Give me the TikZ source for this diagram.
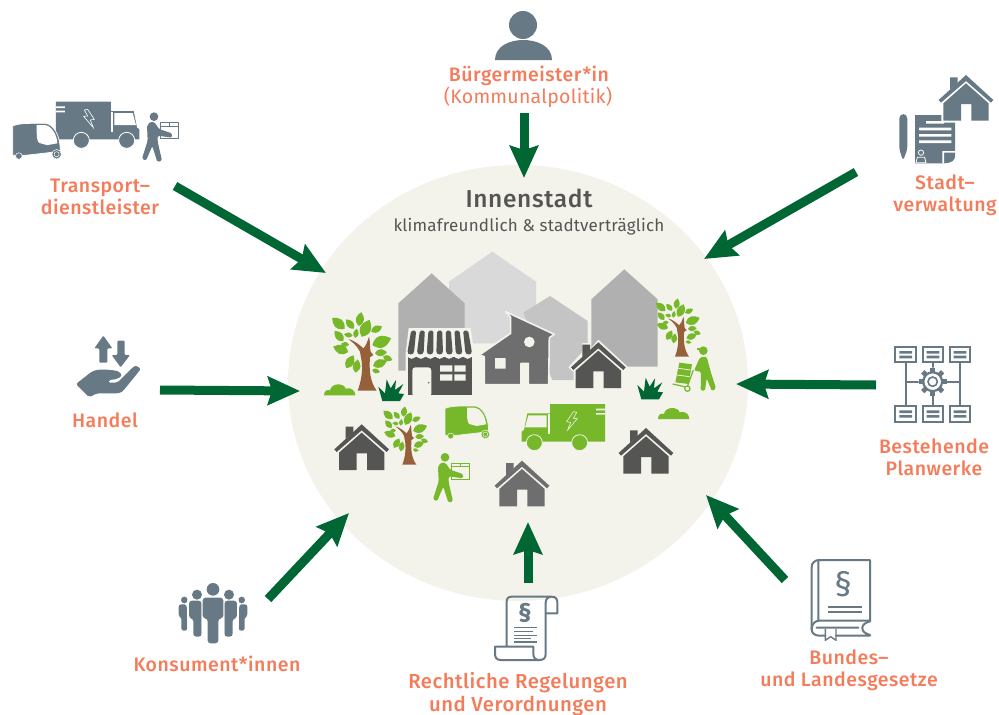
\documentclass[tikz,border=0pt]{standalone}
\usepackage{fontspec}
\setmainfont{Fira Sans}
\newfontfamily\labf{Fira Sans Medium}[LetterSpace=2.6]
\newfontfamily\thinf{Fira Sans}[LetterSpace=1.3]
\usetikzlibrary{arrows.meta}
\definecolor{bgc}{HTML}{F3F2EB}
\definecolor{arrowc}{HTML}{006633}
\definecolor{labelc}{HTML}{F47C5A}
\definecolor{slate}{HTML}{667985}
\definecolor{lgreen}{HTML}{76B82A}
\definecolor{brownc}{HTML}{96603A}
\definecolor{dk}{HTML}{555554}
\definecolor{md}{HTML}{6E6E6E}
\tikzset{
  flow/.style={draw=arrowc,line width=9pt,-{Stealth[length=32pt,width=28pt,inset=4pt]}},
  lab/.style={text=labelc,font=\labf\fontsize{19.5}{22.3}\selectfont,align=center,inner sep=0pt},
  labbig/.style={text=labelc,font=\labf\fontsize{20.3}{22.3}\selectfont,align=center,inner sep=0pt},
  labthin/.style={text=labelc,font=\thinf\fontsize{19.5}{22}\selectfont,align=center,inner sep=0pt},
  zoomed/.style={scale=1/3},
  iconline/.style={draw=slate,line width=2pt,line join=round,line cap=round}
}
% house, apex at origin, zoom units
\newcommand\hausicon[4]{\begin{scope}[shift={(#1,#2)}]
  \fill[#4] (-49,2) -- (-24,2) -- (-24,20) -- (0,-8) -- (90,75) -- (76,90) -- (74,143) -- (-74,143) -- (-74,90) -- (-90,75) -- (-49,30) -- cycle;
  \fill[#3] (0,0) -- (82,75) -- (75,83) -- (0,18) -- (-75,83) -- (-82,75) -- cycle;
  \fill[#3] (0,25) -- (68,85) -- (68,137) -- (16,137) -- (16,87) -- (-15,87) -- (-15,137) -- (-68,137) -- (-68,85) -- cycle;
  \fill[#3] (-48,7) -- (-25,7) -- (-25,24) -- (-48,44) -- cycle;
\end{scope}}
\newcommand\leafat[4]{\fill[shift={(#1,#2)},rotate=#3,lgreen] (-#4,0) .. controls (-#4*0.3,#4*0.95) and (#4*0.4,#4*0.6) .. (#4,0) .. controls (#4*0.4,-#4*0.6) and (-#4*0.3,-#4*0.95) .. (-#4,0) -- cycle;}
% tree, origin at trunk base centre
\newcommand\baum[3]{\begin{scope}[shift={(#1,#2)},scale=#3,shift={(-140,-452)}]
  \leafat{120}{237}{80}{21}\leafat{137}{265}{65}{28}\leafat{90}{252}{130}{18}\leafat{55}{250}{138}{25}
  \leafat{170}{267}{25}{18}\leafat{108}{280}{80}{14}\leafat{57}{288}{130}{20}\leafat{85}{285}{170}{13}
  \leafat{185}{305}{20}{30}\leafat{62}{328}{160}{24}\leafat{75}{313}{175}{12}\leafat{90}{365}{60}{22}
  \leafat{110}{378}{80}{20}\leafat{183}{338}{5}{18}\leafat{203}{355}{-20}{15}\leafat{180}{370}{20}{22}\leafat{168}{393}{-15}{12}
  \fill[brownc] (113,452) .. controls (125,420) and (128,390) .. (125,365) -- (120,335) .. controls (110,315) and (95,305) .. (85,297) .. controls (100,300) and (120,315) .. (130,325) .. controls (138,318) and (142,305) .. (147,290) .. controls (152,310) and (148,320) .. (152,335) -- (160,345) -- (150,352) .. controls (147,390) and (150,425) .. (170,452) -- cycle;
\end{scope}}
\newcommand\wolke[2]{\fill[lgreen,shift={(#1,#2)}] (0,0) .. controls (0,-14) and (10,-18) .. (18,-15) .. controls (22,-38) and (60,-38) .. (65,-20) .. controls (80,-25) and (94,-15) .. (94,0) -- cycle;}
\newcommand\gras[2]{\fill[arrowc,shift={(#1,#2)}] (187,483) -- (175,440) -- (195,460) -- (200,418) -- (212,445) -- (228,420) -- (225,450) -- (250,432) -- (235,460) -- (252,462) -- (240,483) -- cycle;}
% person with parcel, origin at head
\newcommand\paketmann[4]{\begin{scope}[shift={(#1,#2)}]
  \draw[#3,line width=1pt,fill=#4] (20,17) rectangle (73,65);
  \draw[#3,line width=.7pt] (20,28) -- (73,28) (47,17) -- (47,28);
  \fill[#3] (0,0) circle (13);
  \fill[#3,rounded corners=1.5pt] (-21,27) -- (-10,15) -- (2,17) -- (15,37) -- (54,50) -- (54,63) -- (11,57) -- (11,75) -- (24,132) -- (10,136) -- (-5,88) -- (-24,132) -- (-36,126) -- (-19,72) -- cycle;
\end{scope}}
% truck in central zoom units
\newcommand\laster[2]{
  \fill[#1] (690,492) -- (855,492) -- (855,605) -- (605,605) -- (605,575) -- (612,570) -- (622,520) -- (690,520) -- cycle;
  \fill[#2] (625,526) -- (680,526) -- (680,562) -- (615,562) -- cycle;
  \fill[#2] (684,522) rectangle (690,582);
  \fill[#2] (828,506) rectangle (855,511) (828,519) rectangle (855,524);
  \draw[#2,line width=.6pt,line join=miter] (760,515) -- (740,545) -- (752,547) -- (743,570) -- (772,536) -- (760,535) -- (770,517) -- cycle;
  \fill[#1,draw=#2,line width=.8pt] (643,608) circle (24) (779,608) circle (24);
}
% tuk-tuk in central zoom units
\newcommand\tuktuk[2]{
  \fill[#1,draw=#2,line width=.7pt] (375,505) .. controls (390,499) and (410,498) .. (440,498) -- (465,498) .. controls (485,500) and (505,525) .. (506,572) -- (480,578) -- (410,586) -- (375,586) -- cycle;
  \fill[#2] (441,503) -- (465,503) .. controls (482,505) and (497,530) .. (498,553) -- (470,558) -- (448,552) .. controls (441,548) and (441,530) .. (441,503) -- cycle;
  \fill[#1,draw=#2,line width=.5pt] (392,588) circle (9) (496,583) circle (13);
  \draw[#2,line width=.5pt] (496,583) circle (7);
}
\begin{document}
\begin{tikzpicture}[x=1pt,y=-1pt]
\useasboundingbox (0,0) rectangle (999,715);
\fill[white] (0,0) rectangle (999,715);
% disc
\fill[bgc] (518,383) ellipse [x radius=230,y radius=218];

% centre scene, zoom coordinates
\begin{scope}[shift={(320,240)},zoomed]
  \fill[black!15] (387,125) -- (517,35) -- (648,125) -- (648,310) -- (387,310) -- cycle;
  \fill[black!31] (235,190) -- (335,100) -- (434,190) -- (434,392) -- (235,392) -- cycle;
  \fill[black!23] (610,218) -- (690,168) -- (803,243) -- (803,420) -- (697,420) -- cycle;
  \fill[black!31] (814,178) -- (913,88) -- (1013,178) -- (1013,380) -- (814,380) -- cycle;
  % middle house
  \fill[md,draw=bgc,line width=1.6pt,line join=round] (478,345) -- (572,280) -- (572,232) -- (557,215) -- (703,283) -- (688,293) -- (686,434) -- (625,434) -- (625,370) -- (603,370) -- (603,434) -- (493,434) -- (493,350) -- cycle;
  \fill[bgc] (628,306) circle (16) (525,354) rectangle (557,386);
  % shop
  \fill[bgc] (266,264) -- (452,264) -- (463,340) -- (463,470) -- (257,470) -- (257,340) -- cycle;
  \fill[dk] (263,350) rectangle (457,466);
  \fill[bgc,rounded corners=3pt] (277,382) -- (277,470) -- (334,470) -- (334,382) -- cycle;
  \fill[dk] (326,428) circle (2.5);
  \fill[bgc] (360,376) rectangle (397,395) (403,376) rectangle (437,395) (360,403) rectangle (397,422) (403,403) rectangle (437,422);
  \fill[bgc] (257,325) rectangle (463,345);
  \foreach \i in {0,...,6}{
    \pgfmathsetmacro\xm{275+\i*28}
    \fill[bgc] (\xm-15,340) .. controls (\xm-13,362) and (\xm+13,362) .. (\xm+15,340) -- cycle;
  }
  \foreach \i in {0,...,6}{
    \pgfmathsetmacro\xt{281+\i*26}
    \pgfmathsetmacro\xb{272+\i*29}
    \fill[dk,rounded corners=1.5pt] (\xt-7.5,272) -- (\xt+7.5,272) -- (\xb+10,338) .. controls (\xb+4,344) and (\xb-4,344) .. (\xb-10,338) -- cycle;
  }
  % houses
  \hausicon{835}{307}{dk}{bgc}
  \hausicon{125}{553}{dk}{bgc}
  \hausicon{606}{662}{md}{bgc}
  \hausicon{978}{564}{dk}{bgc}
  % trees
  \baum{140}{452}{1}
  \baum{1085}{350}{0.74}
  \baum{267}{674}{0.74}
  \wolke{12}{466}
  \wolke{1014}{537}
  \gras{0}{0}
  \gras{777}{-5}
  % vehicles
  \tuktuk{lgreen}{bgc}
  \laster{lgreen}{bgc}
  \paketmann{375}{652}{lgreen}{bgc}
  % man with trolley
  \fill[lgreen] (1150,332) circle (13);
  \fill[lgreen] (1131,325) rectangle (1150,331);
  \fill[lgreen,rounded corners=1.5pt] (1140,352) -- (1160,350) -- (1172,395) -- (1188,445) -- (1176,454) -- (1160,415) -- (1155,452) -- (1142,452) -- (1143,395) -- (1122,392) -- cycle;
  \fill[lgreen] (1078,368) -- (1116,373) -- (1106,432) -- (1066,427) -- cycle;
  \draw[bgc,line width=.8pt] (1075,385) -- (1112,390) (1071,405) -- (1109,410);
  \draw[lgreen,line width=1.2pt] (1120,390) -- (1102,440) (1058,432) -- (1102,442);
  \draw[lgreen,line width=1.2pt,fill=bgc] (1102,446) circle (8);
\end{scope}

% Transport icon (zoom 2 coordinates)
\begin{scope}[shift={(0,90)},zoomed]
  \begin{scope}[shift={(1023,-457)},xscale=-1]
    \laster{slate}{white}
  \end{scope}
  \begin{scope}[shift={(38,100)},scale=1.09,shift={(-375,-498)}]
    \tuktuk{slate}{white}
  \end{scope}
  \paketmann{462}{80}{slate}{white}
\end{scope}

% Stadtverwaltung icon (zoom 3 coordinates)
\begin{scope}[shift={(860,60)},zoomed]
  \fill[slate,rounded corners=3pt] (118,185) .. controls (118,158) and (142,158) .. (142,185) -- (142,268) -- (129,302) -- (118,268) -- cycle;
  \fill[slate] (165,165) -- (285,165) -- (285,290) .. controls (285,300) and (275,310) .. (250,310) -- (165,310) -- cycle;
  \fill[white] (198,183) rectangle (252,191) (177,203) rectangle (274,211) (177,222) rectangle (274,230) (177,241) rectangle (274,249);
  \fill[white] (247,273) -- (285,273) -- (285,278) -- (252,278) -- (252,310) -- (247,310) -- cycle;
  \draw[white,line width=.8pt] (183,278) circle (8) (168,308) -- (172,292) -- (194,292) -- (198,308) -- cycle;
  \hausicon{318}{45}{slate}{white}
\end{scope}

% Planwerke icon (zoom 4 coordinates)
\begin{scope}[shift={(860,335)},zoomed]
  \draw[iconline,line width=1.7pt] (137,80) -- (137,214) (218,80) -- (218,214) (300,80) -- (300,214) (137,140) -- (300,140);
  \foreach \x in {106,188,269}{ \foreach \y in {36,214}{
    \fill[white,draw=slate,line width=2pt] (\x,\y) rectangle (\x+62,\y+46);
    \fill[slate] (\x+12,\y+12) rectangle (\x+50,\y+20) (\x+12,\y+26) rectangle (\x+50,\y+34);
  }}
  \begin{scope}[shift={(218,140)}]
    \fill[white] (0,0) circle (42);
    \foreach \a in {0,45,...,315}{
      \fill[slate,rotate=\a] (-7,-42) rectangle (7,-26);
    }
    \draw[slate,line width=2.3pt] (0,0) circle (28);
    \fill[white] (0,0) circle (24);
    \draw[slate,line width=1.6pt] (0,0) circle (14);
  \end{scope}
\end{scope}

% Bundesgesetze and Scroll icons (zoom 5 coordinates)
\begin{scope}[shift={(480,550)},zoomed]
  \draw[iconline] (80,290) -- (80,155) .. controls (80,145) and (85,140) .. (95,140) -- (215,140) .. controls (228,140) and (232,148) .. (232,158) -- (232,190) -- (198,190) (215,140) .. controls (203,140) and (197,148) .. (197,158) -- (197,312) .. controls (197,325) and (190,330) .. (178,330) -- (62,330) .. controls (50,330) and (45,322) .. (45,312) -- (45,290) -- (160,290) -- (160,312) .. controls (160,325) and (168,330) .. (178,330);
  \node[text=slate,font=\bfseries\fontsize{25}{25}\selectfont,inner sep=0pt] (parascroll) at (135,189) {§};
  \draw[slate,line width=1.1pt] (102,233) -- (170,233) (102,245) -- (160,245) (102,256) -- (170,256) (102,265) -- (152,265) (102,276) -- (170,276);
  % book
  \draw[iconline] (1170,30) -- (1018,30) .. controls (1005,30) and (995,38) .. (995,52) -- (995,238) .. controls (995,250) and (1005,257) .. (1018,257) -- (1036,257) (1068,257) -- (1170,257) -- (1170,255) .. controls (1155,250) and (1147,245) .. (1147,234) .. controls (1147,225) and (1155,218) .. (1170,214) -- (1170,30);
  \draw[iconline] (1170,212) -- (1018,212) .. controls (1005,212) and (995,222) .. (995,238) (1015,30) -- (1015,212) (1010,233) -- (1135,233);
  \draw[iconline,line width=1.4pt] (1036,238) -- (1036,271) -- (1052,260) -- (1068,271) -- (1068,238);
  \draw[slate,line width=2pt] (1045,170) -- (1145,170) (1045,187) -- (1145,187);
  \node[text=slate,font=\fontsize{34}{34}\selectfont,inner sep=0pt] (parabook) at (1090,102) {§};
\end{scope}

% Hand and people (zoom 6 coordinates)
\begin{scope}[shift={(60,320)},zoomed]
  \fill[slate,rounded corners=1pt] (130,47) -- (157,85) -- (142,85) -- (142,128) -- (118,128) -- (118,85) -- (103,85) -- cycle;
  \fill[slate,rounded corners=1pt] (172,62) -- (194,62) -- (194,105) -- (210,105) -- (182,142) -- (155,105) -- (172,105) -- cycle;
  \fill[slate,rounded corners=2pt] (48,192) -- (95,155) .. controls (120,145) and (160,150) .. (178,155) .. controls (190,170) and (175,178) .. (145,180) -- (145,188) -- (172,188) -- (218,142) .. controls (230,135) and (243,145) .. (236,155) -- (190,212) .. controls (180,220) and (170,220) .. (160,220) -- (110,220) -- (88,232) -- cycle;
  \fill[slate] (459,808) circle (19) (411,824) circle (15) (507,824) circle (15) (373,840) circle (10) (545,840) circle (10);
  \fill[slate,rounded corners=2.5pt] (356,853) -- (380,853) -- (382,932) -- (364,932) -- (364,890) -- (356,890) -- cycle;
  \fill[slate,rounded corners=2.5pt] (562,853) -- (538,853) -- (536,932) -- (554,932) -- (554,890) -- (562,890) -- cycle;
  \fill[white] (382,838) rectangle (388,935) (530,838) rectangle (536,935);
  \fill[slate,rounded corners=3pt] (387,842) -- (425,842) -- (425,950) -- (400,950) -- (400,895) -- (387,895) -- cycle;
  \fill[slate,rounded corners=3pt] (531,842) -- (493,842) -- (493,950) -- (518,950) -- (518,895) -- (531,895) -- cycle;
  \fill[white] (425,835) rectangle (431,960) (487,835) rectangle (493,960);
  \fill[slate,rounded corners=3pt] (428,833) -- (490,833) -- (490,895) -- (475,895) -- (475,970) -- (443,970) -- (443,895) -- (428,895) -- cycle;
\end{scope}

% Bürgermeister icon
\fill[slate] (523,25) circle (14);
\fill[slate] (495,60) .. controls (495,46) and (510,40) .. (523,40) .. controls (537,40) and (552,46) .. (552,60) -- cycle;

% titles
\node[text=dk,font=\labf\fontsize{24.5}{28}\selectfont,inner sep=0pt] (title) at (529,198) {Innenstadt};
\node[text=dk,font=\thinf\fontsize{17}{20}\selectfont,inner sep=0pt] (subtitle) at (529,227) {klimafreundlich \& stadtverträglich};

% labels
\node[lab] (buerg) at (529,76) {Bürgermeister*in};
\node[labthin] (kommunal) at (528,97) {(Kommunalpolitik)};
\node[lab] (transport) at (100,197) {Transport–\\dienstleister};
\node[lab] (stadt) at (945,195) {Stadt–\\verwaltung};
\node[lab] (handel) at (105,420) {Handel};
\node[lab] (plan) at (934,457) {Bestehende\\Planwerke};
\node[lab] (konsum) at (217,664) {Konsument*innen};
\node[labbig] (recht) at (518,694) {Rechtliche Regelungen\\und Verordnungen};
\node[lab] (bund) at (849,670) {Bundes–\\und Landesgesetze};

% connector ends
\coordinate (a1s) at (524,113); \coordinate (a1e) at (524,178);
\coordinate (a2s) at (175,186); \coordinate (a2e) at (326,273);
\coordinate (a3s) at (856,172); \coordinate (a3e) at (704,259);
\coordinate (a4s) at (160,390); \coordinate (a4e) at (300,391);
\coordinate (a5s) at (876,385); \coordinate (a5e) at (736,384);
\coordinate (a6s) at (268,599); \coordinate (a6e) at (349,513);
\coordinate (a7s) at (528,583); \coordinate (a7e) at (528,522);
\coordinate (a8s) at (785,580); \coordinate (a8e) at (706,495);
\foreach \n in {1,...,8}{ \draw[flow] (a\n s) -- (a\n e); }
\end{tikzpicture}
\end{document}
